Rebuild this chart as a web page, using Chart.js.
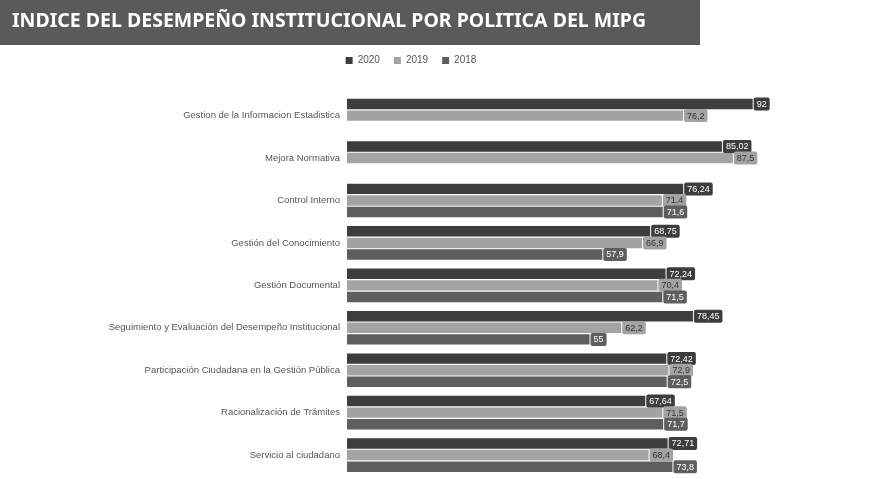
<!DOCTYPE html>
<html>
<head>
<meta charset="utf-8">
<script src="https://cdn.jsdelivr.net/npm/chart.js@4/dist/chart.umd.min.js"></script>
<style>
  html, body { margin: 0; padding: 0; background: #fff; overflow: hidden; }
  #wrap { position: relative; width: 843px; height: 489px; }
</style>
</head>
<body>
<div id="wrap"><canvas id="mipgChart"></canvas></div>
<script>
var categorias = [
  "Gestion de la Informacion Estadistica",
  "Mejora Normativa",
  "Control Interno",
  "Gestión del Conocimiento",
  "Gestión Documental",
  "Seguimiento y Evaluación del Desempeño Institucional",
  "Participación Ciudadana en la Gestión Pública",
  "Racionalización de Trámites",
  "Servicio al ciudadano"
];
var anios = ["2020", "2019", "2018"];
var valores2020 = [92, 85.02, 76.24, 68.75, 72.24, 78.45, 72.42, 67.64, 72.71];
var valores2019 = [76.2, 87.5, 71.4, 66.9, 70.4, 62.2, 72.9, 71.5, 68.4];
var valores2018 = [null, null, 71.6, 57.9, 71.5, 55.0, 72.5, 71.7, 73.8];
var titulo = "INDICE DEL DESEMPEÑO INSTITUCIONAL POR POLITICA DEL MIPG";

var colores = ["#3d3d3d", "#a3a3a3", "#5e5e5e"];
var coloresTexto = ["#ffffff", "#333333", "#ffffff"];

function formatoValor(v) {
  return String(v).replace(".", ",");
}

// banner behind the title
var bannerPlugin = {
  id: 'banner',
  beforeDraw: function (chart) {
    var ctx = chart.ctx;
    ctx.save();
    ctx.fillStyle = "#5a5a5a";
    ctx.fillRect(0, 0, 700, 45);
    ctx.restore();
  }
};

// extra room under the legend
var legendMargin = {
  id: 'legendMargin',
  beforeInit: function (chart) {
    var fit = chart.legend.fit;
    chart.legend.fit = function () {
      fit.bind(chart.legend)();
      this.height += 19;
    };
  }
};

// value boxes at the end of every bar
var etiquetas = {
  id: 'etiquetas',
  afterDatasetsDraw: function (chart) {
    var ctx = chart.ctx;
    ctx.save();
    ctx.font = "9px 'Liberation Sans', sans-serif";
    ctx.textBaseline = "middle";
    chart.data.datasets.forEach(function (ds, i) {
      var meta = chart.getDatasetMeta(i);
      meta.data.forEach(function (bar, j) {
        var v = ds.data[j];
        if (v === null || v === undefined) return;
        var txt = formatoValor(v);
        var w = ctx.measureText(txt).width + 6;
        var h = 13;
        var x = bar.x + 1;
        var y = bar.y - h / 2;
        ctx.fillStyle = colores[i];
        ctx.beginPath();
        ctx.roundRect(x, y, w, h, 2);
        ctx.fill();
        ctx.fillStyle = coloresTexto[i];
        ctx.fillText(txt, x + 3, bar.y + 0.5);
      });
    });
    ctx.restore();
  }
};

var ctx = document.getElementById("mipgChart");
var config = {
  type: 'bar',
  data: {
    labels: categorias,
    datasets: [
      { label: anios[0], data: valores2020, backgroundColor: colores[0] },
      { label: anios[1], data: valores2019, backgroundColor: colores[1] },
      { label: anios[2], data: valores2018, backgroundColor: colores[2] }
    ]
  },
  options: {
    indexAxis: 'y',
    responsive: true,
    maintainAspectRatio: false,
    animation: false,
    layout: { padding: { left: 12, right: 33, top: 0, bottom: 0 } },
    datasets: {
      bar: { barPercentage: 0.9, categoryPercentage: 0.82 }
    },
    scales: {
      x: {
        display: false,
        min: 0,
        max: 105
      },
      y: {
        afterFit: function (scale) { scale.width = 335; },
        grid: { display: false, drawTicks: false },
        border: { display: false },
        ticks: {
          padding: 7,
          color: "#555",
          font: { family: "'Liberation Sans', sans-serif", size: 9.5 }
        }
      }
    },
    plugins: {
      title: {
        display: true,
        text: titulo,
        align: 'start',
        color: "#ffffff",
        padding: { top: 10, bottom: 8 },
        font: { family: "'Noto Sans', sans-serif", size: 19.5, weight: 'bold' }
      },
      legend: {
        display: true,
        position: 'top',
        labels: {
          boxWidth: 7,
          boxHeight: 7,
          padding: 14,
          color: "#555",
          font: { family: "'Liberation Sans', sans-serif", size: 10 }
        }
      },
      tooltip: { enabled: false }
    }
  },
  plugins: [bannerPlugin, legendMargin, etiquetas]
};
var miGrafico = new Chart(ctx, config);
</script>
</body>
</html>
